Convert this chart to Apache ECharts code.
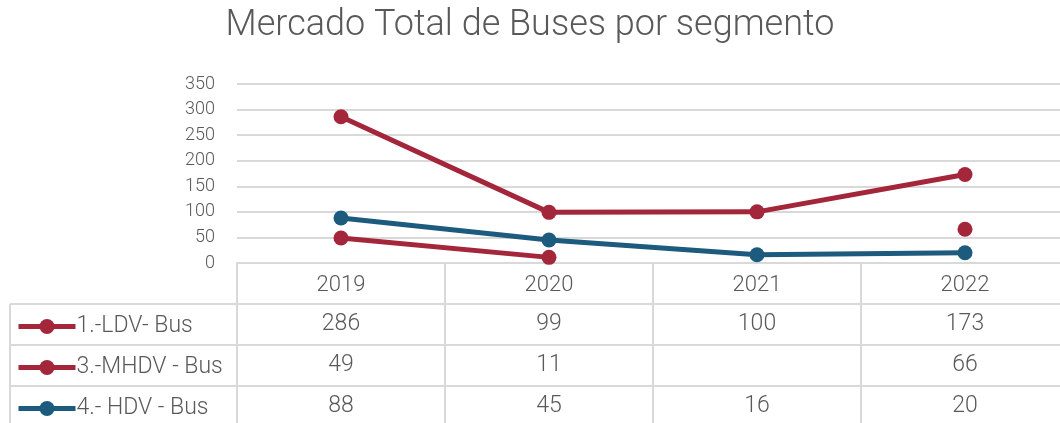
<!DOCTYPE html>
<html><head><meta charset="utf-8">
<script src="https://cdn.jsdelivr.net/npm/echarts@6/dist/echarts.min.js"></script>
<style>html,body{margin:0;padding:0;background:#fff}#c{width:1060px;height:423px}</style>
</head><body><div id="c"></div>
<script>
const title = 'Mercado Total de Buses por segmento';
const years = ['2019', '2020', '2021', '2022'];
const seriesNames = ['1.-LDV- Bus', '3.-MHDV - Bus', '4.- HDV - Bus'];
const ldv = [286, 99, 100, 173];
const mhdv = [49, 11, null, 66];
const hdv = [88, 45, 16, 20];
const yMin = 0, yMax = 350, yStep = 50;

const RED = '#A3263A', BLUE = '#1C5A7E', TXT = '#595959', GRID = '#D9D9D9';
const FONT = 'Roboto, "Open Sans", sans-serif';
const seriesData = [ldv, mhdv, hdv];
const seriesColors = [RED, RED, BLUE];
const rowTop = [304, 345, 386];
const rowH = 41;

const chart = echarts.init(document.getElementById('c'), null, {renderer: 'canvas'});

const option = {
  backgroundColor: '#fff',
  animation: false,
  textStyle: {fontFamily: FONT},
  title: {
    text: title, left: 'center', top: 3,
    textStyle: {fontSize: 36, fontWeight: 300, color: TXT, fontFamily: FONT}
  },
  legend: seriesNames.map((n, i) => ({
    data: [n], orient: 'horizontal', left: 16, top: rowTop[i] + 11, padding: 0,
    itemWidth: 57, itemHeight: 19, itemGap: 0,
    lineStyle: {width: 5},
    textStyle: {fontSize: 23, fontWeight: 300, color: TXT, fontFamily: FONT, padding: [0, 0, 0, -4]},
    selectedMode: false
  })),
  grid: {left: 237, width: 832, top: 84, height: 179, containLabel: false, outerBoundsMode: 'none'},
  xAxis: {
    type: 'category', data: years, boundaryGap: true,
    axisLine: {show: true, lineStyle: {color: GRID, width: 2}},
    axisTick: {show: true, length: 162, lineStyle: {color: GRID, width: 2}},
    axisLabel: {fontSize: 22, fontWeight: 300, color: TXT, margin: 11, fontFamily: FONT},
    splitLine: {show: false}
  },
  yAxis: {
    type: 'value', min: yMin, max: yMax, interval: yStep,
    axisLine: {show: false}, axisTick: {show: false},
    axisLabel: {fontSize: 18, fontWeight: 300, color: TXT, margin: 22, fontFamily: FONT},
    splitLine: {lineStyle: {color: GRID, width: 2}}
  },
  series: seriesNames.map((n, i) => ({
    name: n, type: 'line', data: seriesData[i],
    symbol: 'circle', symbolSize: 15, showSymbol: true, connectNulls: false,
    lineStyle: {color: seriesColors[i], width: 5},
    itemStyle: {color: seriesColors[i]},
    z: 3 + i
  }))
};
chart.setOption(option);

// Data table beneath the plot, positioned from the category axis
const graphics = [];
const xs = years.map(y => chart.convertToPixel({xAxisIndex: 0}, y));
rowTop.forEach((t) => {
  graphics.push({type: 'line', shape: {x1: 10, y1: t, x2: 1060, y2: t}, style: {stroke: GRID, lineWidth: 2}, silent: true});
});
graphics.push({type: 'line', shape: {x1: 10, y1: rowTop[0], x2: 10, y2: 423}, style: {stroke: GRID, lineWidth: 2}, silent: true});
seriesData.forEach((arr, r) => {
  arr.forEach((v, c) => {
    if (v === null) return;
    graphics.push({
      type: 'text', x: xs[c], y: rowTop[r] + rowH / 2,
      style: {text: String(v), fill: TXT, font: '300 23px ' + FONT, textAlign: 'center', textVerticalAlign: 'middle'},
      silent: true
    });
  });
});
chart.setOption({graphic: graphics});
</script>
</body></html>
